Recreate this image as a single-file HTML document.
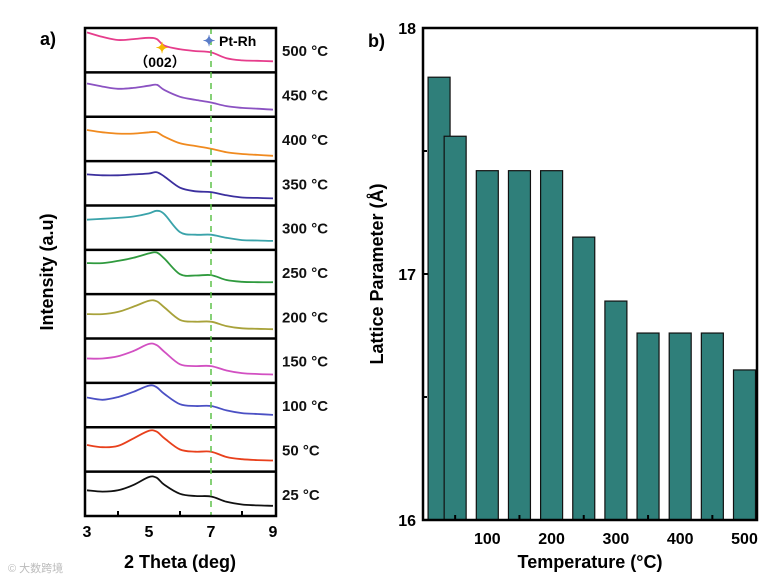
<!DOCTYPE html>
<html><head><meta charset="utf-8"><style>
body{margin:0;background:#fff;}
svg{display:block;font-family:"Liberation Sans","Noto Sans CJK SC",sans-serif;font-weight:bold;}
</style></head><body>
<svg width="779" height="579" viewBox="0 0 779 579">
<g id="left"></g>
<g id="right"></g>
<text x="8" y="572" font-size="11" fill="#bbb" font-weight="normal">© 大数跨境</text>
</svg>
<script>
const NS="http://www.w3.org/2000/svg";
// ---- Left chart data ----
const xrdTemps=["500 °C","450 °C","400 °C","350 °C","300 °C","250 °C","200 °C","150 °C","100 °C","50 °C","25 °C"];
const xrdTheta=[3,3.5,4,4.5,5,5.25,5.5,6,6.5,7,7.5,8,8.5,9];
const xrd500=[0.1,0.2,0.27,0.25,0.22,0.25,0.4,0.48,0.52,0.55,0.68,0.73,0.74,0.75];
const xrd450=[0.25,0.32,0.37,0.35,0.3,0.28,0.4,0.55,0.62,0.68,0.76,0.8,0.82,0.84];
const xrd400=[0.3,0.35,0.38,0.38,0.35,0.35,0.45,0.6,0.66,0.72,0.8,0.84,0.86,0.88];
const xrd350=[0.3,0.32,0.32,0.3,0.28,0.25,0.35,0.6,0.68,0.7,0.77,0.82,0.83,0.84];
const xrd300=[0.32,0.3,0.28,0.25,0.18,0.12,0.2,0.6,0.66,0.66,0.73,0.78,0.79,0.8];
const xrd250=[0.3,0.3,0.25,0.18,0.08,0.06,0.2,0.55,0.58,0.57,0.68,0.72,0.73,0.73];
const xrd200=[0.45,0.45,0.4,0.28,0.15,0.16,0.3,0.58,0.62,0.62,0.72,0.77,0.78,0.79];
const xrd150=[0.45,0.45,0.4,0.28,0.12,0.15,0.3,0.58,0.62,0.62,0.72,0.78,0.8,0.81];
const xrd100=[0.33,0.38,0.32,0.2,0.06,0.1,0.25,0.48,0.52,0.52,0.62,0.68,0.7,0.72];
const xrd50=[0.4,0.45,0.42,0.25,0.08,0.1,0.25,0.5,0.55,0.55,0.67,0.72,0.74,0.75];
const xrd25=[0.42,0.45,0.42,0.3,0.12,0.14,0.3,0.5,0.55,0.56,0.68,0.74,0.76,0.77];
const xrdSeries=[xrd500,xrd450,xrd400,xrd350,xrd300,xrd250,xrd200,xrd150,xrd100,xrd50,xrd25];
const xrdColors=["#e63d8c","#8b52c2","#f08a1f","#3b2f9e","#3aa3aa","#2f9a3e","#a8a23a","#d250c2","#4b50c4","#e8401c","#111"];
const xTicks=[3,5,7,9];
// ---- Right chart data ----
const temps=[25,50,100,150,200,250,300,350,400,450,500];
const lattice=[17.80,17.56,17.42,17.42,17.42,17.15,16.89,16.76,16.76,16.76,16.61];
const tTicks=[100,200,300,400,500];
const yTicks=[16,17,18];

function el(tag,attrs,parent,name,inter){const e=document.createElementNS(NS,tag);for(const k in attrs)e.setAttribute(k,attrs[k]);


parent.appendChild(e);return e;}
function smooth(pts){let d="M"+pts[0][0].toFixed(1)+","+pts[0][1].toFixed(1);
 for(let i=0;i<pts.length-1;i++){const p0=pts[i-1]||pts[i],p1=pts[i],p2=pts[i+1],p3=pts[i+2]||p2;
  const c1=[p1[0]+(p2[0]-p0[0])/6,p1[1]+(p2[1]-p0[1])/6],c2=[p2[0]-(p3[0]-p1[0])/6,p2[1]-(p3[1]-p1[1])/6];
  d+="C"+c1[0].toFixed(1)+","+c1[1].toFixed(1)+" "+c2[0].toFixed(1)+","+c2[1].toFixed(1)+" "+p2[0].toFixed(1)+","+p2[1].toFixed(1);}
 return d;}

// Left
const L=document.getElementById('left');
const lx0=85,lx1=276,ly0=28,ly1=516,ph=(ly1-ly0)/11;
const sx=t=>87+(t-3)*(273-87)/6;
xrdSeries.forEach((s,i)=>{
  const top=ly0+i*ph;
  const pts=s.map((v,j)=>[sx(xrdTheta[j]),top+v*ph]);
  el('path',{d:smooth(pts),fill:'none',stroke:xrdColors[i],'stroke-width':1.8,'stroke-linejoin':'round'},L,'xrd-curve-'+xrdTemps[i].split(' ')[0]);
  const t=el('text',{x:282,y:top+ph/2+6,'font-size':15,fill:'#111'},L,'temp-label');t.textContent=xrdTemps[i];
  if(i>0)el('line',{x1:lx0,x2:lx1,y1:top,y2:top,stroke:'#000','stroke-width':2.5},L,'panel-divider');
});
el('line',{x1:sx(7),x2:sx(7),y1:ly0,y2:ly1,stroke:'#5ec24a','stroke-width':1.5,'stroke-dasharray':'6,5'},L,'pt-rh-reference-line');
el('rect',{x:lx0,y:ly0,width:lx1-lx0,height:ly1-ly0,fill:'none',stroke:'#000','stroke-width':2.5},L,'xrd-frame');
xTicks.forEach(t=>{const tx=el('text',{x:sx(t),y:537,'font-size':16,'text-anchor':'middle'},L,'x-tick-label');tx.textContent=t;});
[4,6,8].forEach(t=>el('line',{x1:sx(t),x2:sx(t),y1:ly1,y2:ly1-5,stroke:'#000','stroke-width':2},L,'x-minor-tick'));
let tt=el('text',{x:180,y:568,'font-size':18,'text-anchor':'middle'},L,'x-axis-title');tt.textContent="2 Theta (deg)";
tt=el('text',{x:0,y:0,'font-size':18,'text-anchor':'middle',transform:'translate(53,272) rotate(-90)'},L,'y-axis-title');tt.textContent="Intensity (a.u)";
tt=el('text',{x:40,y:45,'font-size':18},L,'panel-label-a');tt.textContent="a)";
tt=el('text',{x:162,y:53,'font-size':15,fill:'#f5b800','text-anchor':'middle'},L,'peak-002-marker');tt.textContent="✦";
tt=el('text',{x:160,y:67,'font-size':14,'text-anchor':'middle'},L,'peak-002-label');tt.textContent="（002）";
tt=el('text',{x:209,y:46,'font-size':15,fill:'#5a7cc8','text-anchor':'middle'},L,'pt-rh-marker');tt.textContent="✦";
tt=el('text',{x:219,y:46,'font-size':14},L,'pt-rh-label');tt.textContent="Pt-Rh";

// Right
const R=document.getElementById('right');
const rx0=423,rx1=757,ry0=28,ry1=520;
const bx=t=>rx0+t*0.643;
const by=v=>ry1-(v-16)*(ry1-ry0)/2;
temps.forEach((t,i)=>{
  const w=22;
  el('rect',{x:bx(t)-w/2,y:by(lattice[i]),width:w,height:ry1-by(lattice[i]),fill:'#2f7f7a',stroke:'#111','stroke-width':1.2},R,'bar-'+t,'true');
});
el('rect',{x:rx0,y:ry0,width:rx1-rx0,height:ry1-ry0,fill:'none',stroke:'#000','stroke-width':2.5},R,'bar-frame');
tTicks.forEach(t=>{const tx=el('text',{x:bx(t),y:544,'font-size':16,'text-anchor':'middle'},R,'x-tick-label');tx.textContent=t;});
[50,150,250,350,450].forEach(t=>el('line',{x1:bx(t),x2:bx(t),y1:ry1,y2:ry1-5,stroke:'#000','stroke-width':2},R,'x-minor-tick'));
yTicks.forEach(v=>{const tx=el('text',{x:416,y:by(v)+6,'font-size':16,'text-anchor':'end'},R,'y-tick-label');tx.textContent=v;
 el('line',{x1:rx0,x2:rx0+5,y1:by(v),y2:by(v),stroke:'#000','stroke-width':2},R,'y-tick');});
[16.5,17.5].forEach(v=>el('line',{x1:rx0,x2:rx0+4,y1:by(v),y2:by(v),stroke:'#000','stroke-width':2},R,'y-minor-tick'));
tt=el('text',{x:590,y:568,'font-size':18,'text-anchor':'middle'},R,'x-axis-title');tt.textContent="Temperature (°C)";
tt=el('text',{x:0,y:0,'font-size':18,'text-anchor':'middle',transform:'translate(383,274) rotate(-90)'},R,'y-axis-title');tt.textContent="Lattice Parameter (Å)";
tt=el('text',{x:368,y:47,'font-size':18},R,'panel-label-b');tt.textContent="b)";
</script>
</body></html>
